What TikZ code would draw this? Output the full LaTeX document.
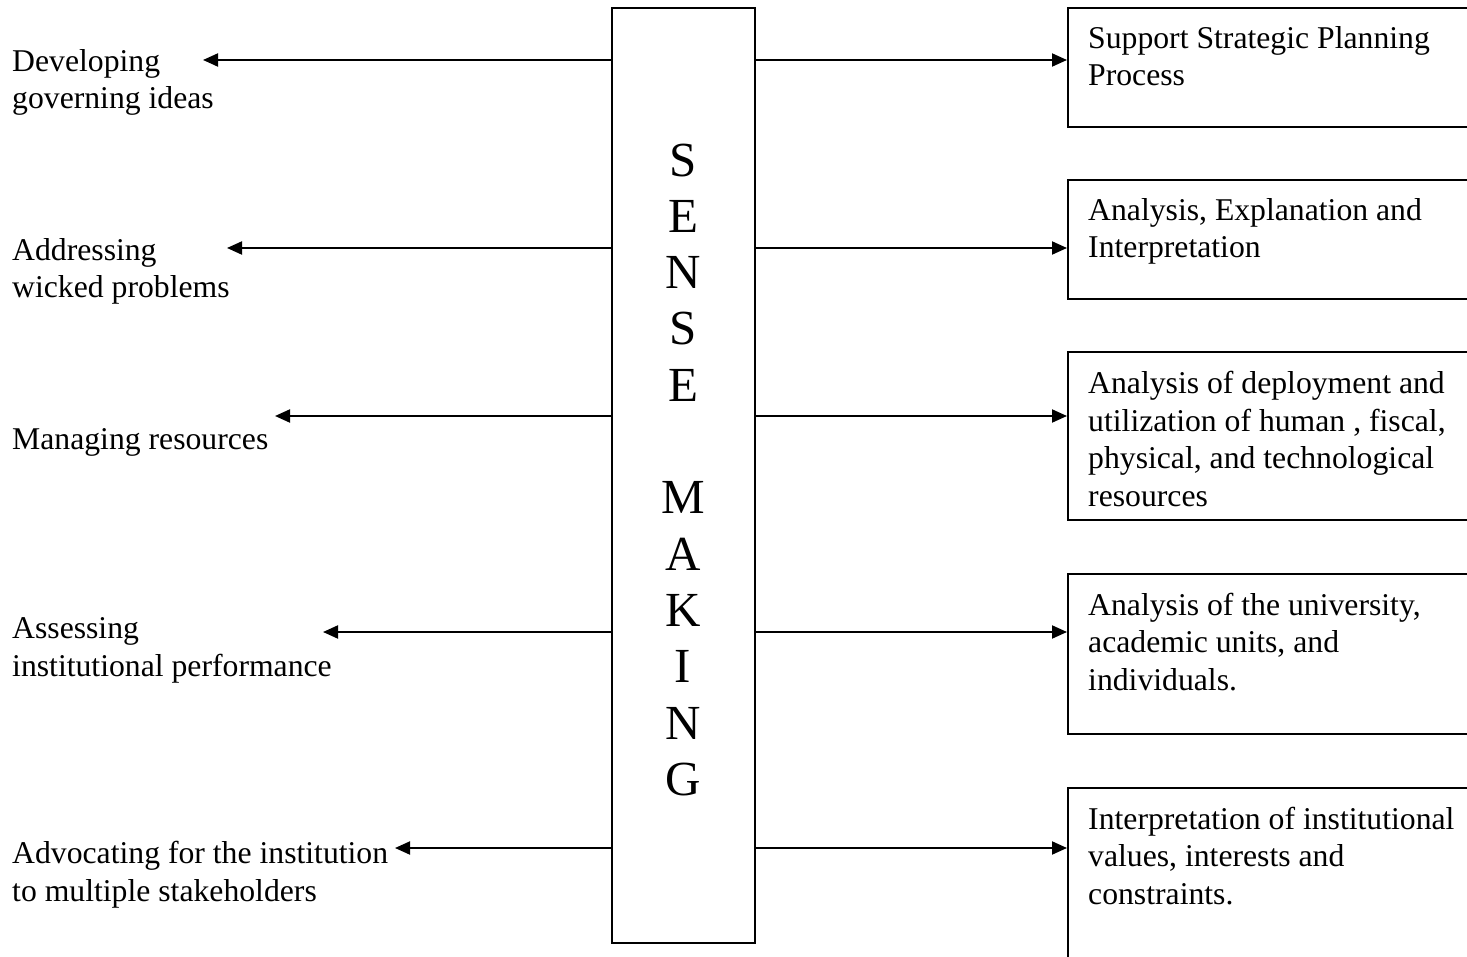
\documentclass[tikz,border=0pt]{standalone}
\usepackage{fontspec}
\setmainfont{Liberation Serif}
\usetikzlibrary{arrows.meta}
\begin{document}
\begin{tikzpicture}[x=1pt,y=-1pt,
  txt/.style={font=\fontsize{31.7}{37.5}\selectfont, align=left, inner sep=0pt, anchor=base west},
  outbox/.style={draw, line width=2pt, minimum width=450pt, anchor=north west, inner sep=0pt},
  link/.style={line width=2pt, -{Triangle[length=15pt,width=13pt]}},
  letters/.style={font=\fontsize{49}{56.3}\selectfont, align=center, inner sep=0pt, anchor=base}]
\clip (0,0) rectangle (1467,957);
\fill[white] (0,0) rectangle (1467,957);
% central box
\node[draw, line width=2pt, minimum width=143pt, minimum height=935pt, anchor=north west, inner sep=0pt] (sm) at (611,7) {};
\node[letters] (smtext) at (683,795.3) {S\\E\\N\\S\\E\\[56.3pt]M\\A\\K\\I\\N\\G};
% left texts (anchored at the baseline of their last line)
\node[txt] (t1) at (12,109) {Developing\\governing ideas};
\node[txt] (t2) at (12,298) {Addressing\\wicked problems};
\node[txt] (t3) at (12,449) {Managing resources};
\node[txt] (t4) at (12,676) {Assessing\\institutional performance};
\node[txt] (t5) at (12,901) {Advocating for the institution\\to multiple stakeholders};
% left arrow tips
\coordinate (l1) at (203,60);
\coordinate (l2) at (227,248);
\coordinate (l3) at (275,416);
\coordinate (l4) at (323,632);
\coordinate (l5) at (395,848);
\foreach \i in {1,...,5} {\draw[link] (sm.west |- l\i) -- (l\i);}
% right boxes
\node[outbox, minimum height=119pt] (b1) at (1067,7) {};
\node[outbox, minimum height=119pt] (b2) at (1067,179) {};
\node[outbox, minimum height=168pt] (b3) at (1067,351) {};
\node[outbox, minimum height=160pt] (b4) at (1067,573) {};
\node[outbox, minimum height=250pt] (b5) at (1067,787) {};
\node[txt] (r1) at (1088,86) {Support Strategic Planning\\Process};
\node[txt] (r2) at (1088,258) {Analysis, Explanation and\\Interpretation};
\node[txt] (r3) at (1088,506) {Analysis of deployment and\\utilization of human , fiscal,\\physical, and technological\\resources};
\node[txt] (r4) at (1088,690) {Analysis of the university,\\academic units, and\\individuals.};
\node[txt] (r5) at (1088,904) {Interpretation of institutional\\values, interests and\\constraints.};
\foreach \i in {1,...,5} {\draw[link] (sm.east |- l\i) -- (b\i.west |- l\i);}
\end{tikzpicture}
\end{document}
